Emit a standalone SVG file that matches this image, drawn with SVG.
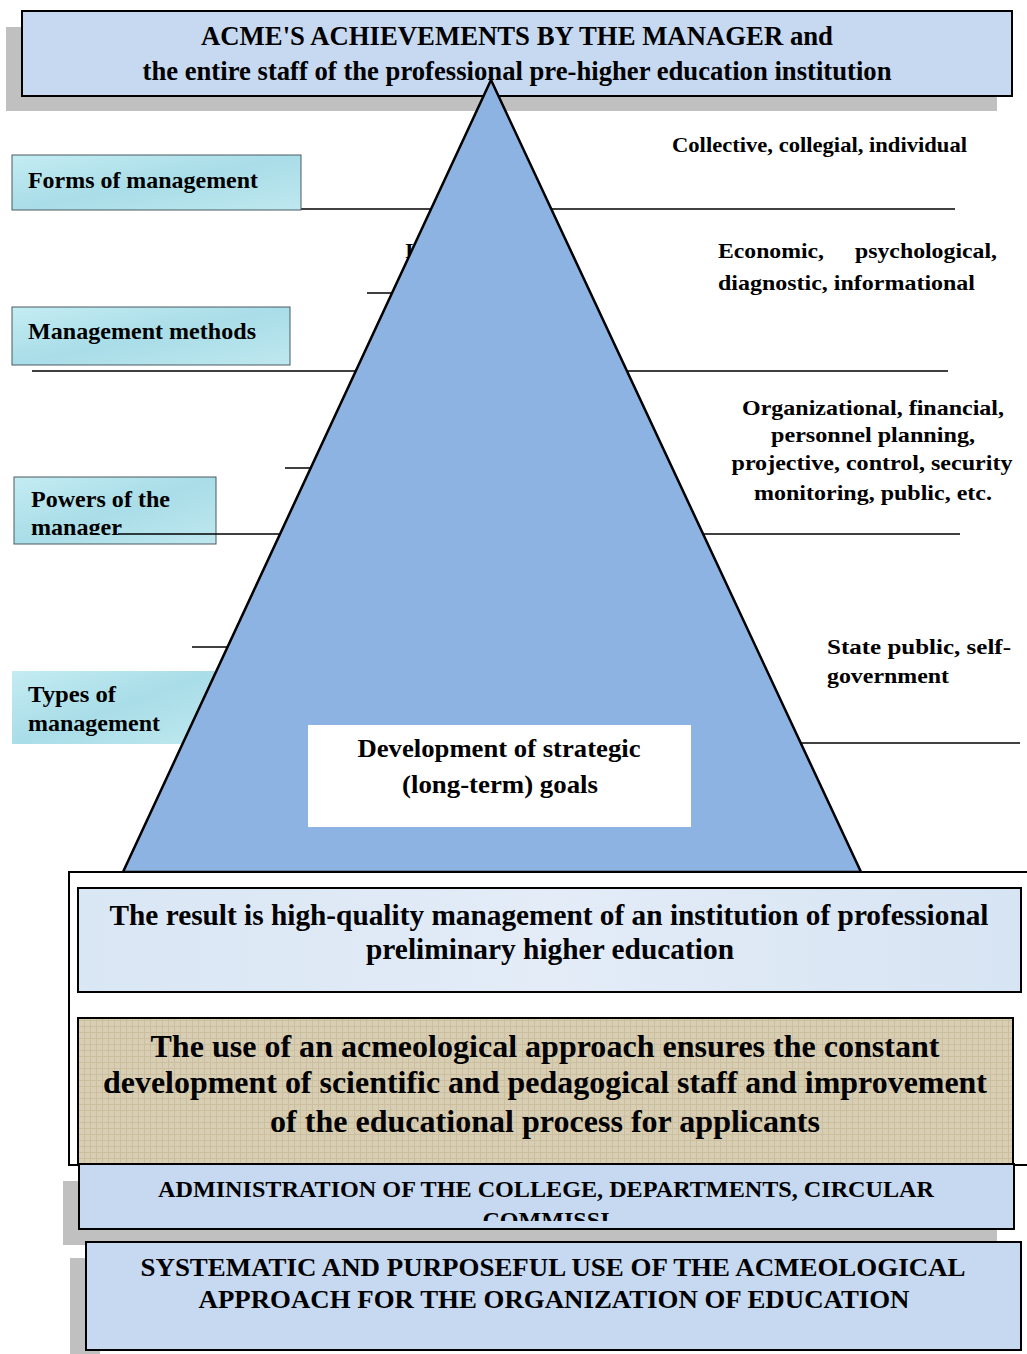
<svg xmlns="http://www.w3.org/2000/svg" width="1027" height="1354" viewBox="0 0 1027 1354">
<defs>
<style>
text{font-family:"Liberation Serif","Times New Roman",serif;font-weight:bold;fill:#000}
.lbl{font-size:23px}
.rt{font-size:21.5px}
.ln{stroke:#000;stroke-width:1.3;fill:none}
.shadow{fill:#c0c0c0}
.blue{fill:#c6d9f1;stroke:#000;stroke-width:2}
.cyan{fill:url(#cyanG);stroke:#4a5a60;stroke-width:1}
</style>
<linearGradient id="cyanG" x1="0" y1="0" x2="1" y2="1">
<stop offset="0" stop-color="#c4ecf2"/>
<stop offset="0.5" stop-color="#a9dde8"/>
<stop offset="1" stop-color="#bfe8ef"/>
</linearGradient>
<linearGradient id="resG" x1="0" y1="0" x2="1" y2="0">
<stop offset="0" stop-color="#d9e6f4"/>
<stop offset="0.5" stop-color="#e3ecf7"/>
<stop offset="1" stop-color="#d7e4f3"/>
</linearGradient>
<pattern id="tanP" width="6" height="6" patternUnits="userSpaceOnUse">
<rect width="6" height="6" fill="#d8ceb4"/>
<path d="M0 0.5H6M0.5 0V6" stroke="#cbbf9f" stroke-width="1"/>
</pattern>
<clipPath id="clipPow"><rect x="14" y="477" width="202" height="58"/></clipPath>
<clipPath id="clipAdm"><rect x="80" y="1165" width="933" height="56"/></clipPath>
</defs>

<g id="title">
<rect class="shadow" x="6" y="27" width="991" height="84"/>
<rect class="blue" x="22" y="11" width="990" height="85"/>
<text x="517" y="45" text-anchor="middle" font-size="27" textLength="632" lengthAdjust="spacingAndGlyphs">ACME'S ACHIEVEMENTS BY THE MANAGER and</text>
<text x="517" y="80" text-anchor="middle" font-size="27" textLength="749" lengthAdjust="spacingAndGlyphs">the entire staff of the professional pre-higher education institution</text>
</g>

<g id="connectors">
<line class="ln" x1="301" y1="209" x2="955" y2="209"/>
<line class="ln" x1="367" y1="293" x2="420" y2="293"/>
<line class="ln" x1="32" y1="371" x2="948" y2="371"/>
<line class="ln" x1="285" y1="468" x2="330" y2="468"/>
<line class="ln" x1="192" y1="647" x2="240" y2="647"/>
<line class="ln" x1="700" y1="743" x2="1020" y2="743"/>
</g>

<g id="node-forms">
<rect class="cyan" x="12" y="155" width="289" height="55"/>
<text class="lbl" x="28" y="188" textLength="230" lengthAdjust="spacingAndGlyphs">Forms of management</text>
</g>

<g id="node-methods">
<rect class="cyan" x="12" y="307" width="278" height="58"/>
<text class="lbl" x="28" y="339" textLength="228" lengthAdjust="spacingAndGlyphs">Management methods</text>
</g>

<g id="node-powers">
<rect class="cyan" x="14" y="477" width="202" height="67"/>
<g clip-path="url(#clipPow)">
<text class="lbl" x="31" y="507" textLength="139" lengthAdjust="spacingAndGlyphs">Powers of the</text>
<text class="lbl" x="31" y="535" textLength="91" lengthAdjust="spacingAndGlyphs">manager</text>
</g>
</g>
<line class="ln" x1="118" y1="534" x2="960" y2="534"/>

<g id="node-types">
<rect x="12" y="671" width="205" height="73" fill="url(#cyanG)"/>
<text class="lbl" x="28" y="702" textLength="88" lengthAdjust="spacingAndGlyphs">Types of</text>
<text class="lbl" x="28" y="731" textLength="132" lengthAdjust="spacingAndGlyphs">management</text>
</g>

<text x="405" y="258" font-size="22">I</text>

<g id="pyramid">
<polygon points="491,80 123,872 861,872" fill="#8db3e2" stroke="#000" stroke-width="2.5" stroke-linejoin="miter"/>
</g>

<g id="node-strategic">
<rect x="308" y="725" width="383" height="102" fill="#fff"/>
<text x="499" y="757" text-anchor="middle" font-size="25" textLength="283" lengthAdjust="spacingAndGlyphs">Development of strategic</text>
<text x="500" y="793" text-anchor="middle" font-size="25" textLength="196" lengthAdjust="spacingAndGlyphs">(long-term) goals</text>
</g>

<g id="right-forms">
<text class="rt" x="672" y="152" textLength="295" lengthAdjust="spacingAndGlyphs">Collective, collegial, individual</text>
</g>
<g id="right-methods">
<text class="rt" x="718" y="258" textLength="106" lengthAdjust="spacingAndGlyphs">Economic,</text>
<text class="rt" x="855" y="258" textLength="142" lengthAdjust="spacingAndGlyphs">psychological,</text>
<text class="rt" x="718" y="290" textLength="257" lengthAdjust="spacingAndGlyphs">diagnostic, informational</text>
</g>
<g id="right-powers">
<text class="rt" x="873" y="415" text-anchor="middle" textLength="262" lengthAdjust="spacingAndGlyphs">Organizational, financial,</text>
<text class="rt" x="873" y="442" text-anchor="middle" textLength="204" lengthAdjust="spacingAndGlyphs">personnel planning,</text>
<text class="rt" x="872" y="470" text-anchor="middle" textLength="281" lengthAdjust="spacingAndGlyphs">projective, control, security</text>
<text class="rt" x="873" y="500" text-anchor="middle" textLength="238" lengthAdjust="spacingAndGlyphs">monitoring, public, etc.</text>
</g>
<g id="right-types">
<text class="rt" x="827" y="654" textLength="184" lengthAdjust="spacingAndGlyphs">State public, self-</text>
<text class="rt" x="827" y="683" textLength="122" lengthAdjust="spacingAndGlyphs">government</text>
</g>

<g id="node-outer">
<rect x="69" y="872" width="975" height="293" fill="#fff" stroke="#000" stroke-width="2"/>
</g>

<g id="node-result">
<rect x="78" y="888" width="943" height="104" fill="url(#resG)" stroke="#000" stroke-width="2"/>
<text x="549" y="925" text-anchor="middle" font-size="29" textLength="879" lengthAdjust="spacingAndGlyphs">The result is high-quality management of an institution of professional</text>
<text x="550" y="959" text-anchor="middle" font-size="29" textLength="368" lengthAdjust="spacingAndGlyphs">preliminary higher education</text>
</g>

<g id="node-acme">
<rect x="78" y="1018" width="935" height="146" fill="url(#tanP)" stroke="#000" stroke-width="2"/>
<text x="545" y="1057" text-anchor="middle" font-size="31" textLength="789" lengthAdjust="spacingAndGlyphs">The use of an acmeological approach ensures the constant</text>
<text x="545" y="1093" text-anchor="middle" font-size="31" textLength="884" lengthAdjust="spacingAndGlyphs">development of scientific and pedagogical staff and improvement</text>
<text x="545" y="1132" text-anchor="middle" font-size="31" textLength="550" lengthAdjust="spacingAndGlyphs">of the educational process for applicants</text>
</g>

<g id="node-admin">
<rect class="shadow" x="63" y="1181" width="934" height="64"/>
<rect class="blue" x="79" y="1164" width="935" height="65"/>
<g clip-path="url(#clipAdm)">
<text x="546" y="1197" text-anchor="middle" font-size="24" textLength="776" lengthAdjust="spacingAndGlyphs">ADMINISTRATION OF THE COLLEGE, DEPARTMENTS, CIRCULAR</text>
<text x="546" y="1228" text-anchor="middle" font-size="24" textLength="127" lengthAdjust="spacingAndGlyphs">COMMISSI</text>
</g>
</g>

<g id="node-systematic">
<rect class="shadow" x="70" y="1258" width="30" height="96"/>
<rect class="blue" x="86" y="1242" width="935" height="108"/>
<text x="553" y="1276" text-anchor="middle" font-size="26" textLength="825" lengthAdjust="spacingAndGlyphs">SYSTEMATIC AND PURPOSEFUL USE OF THE ACMEOLOGICAL</text>
<text x="554" y="1308" text-anchor="middle" font-size="26" textLength="711" lengthAdjust="spacingAndGlyphs">APPROACH FOR THE ORGANIZATION OF EDUCATION</text>
</g>
</svg>
